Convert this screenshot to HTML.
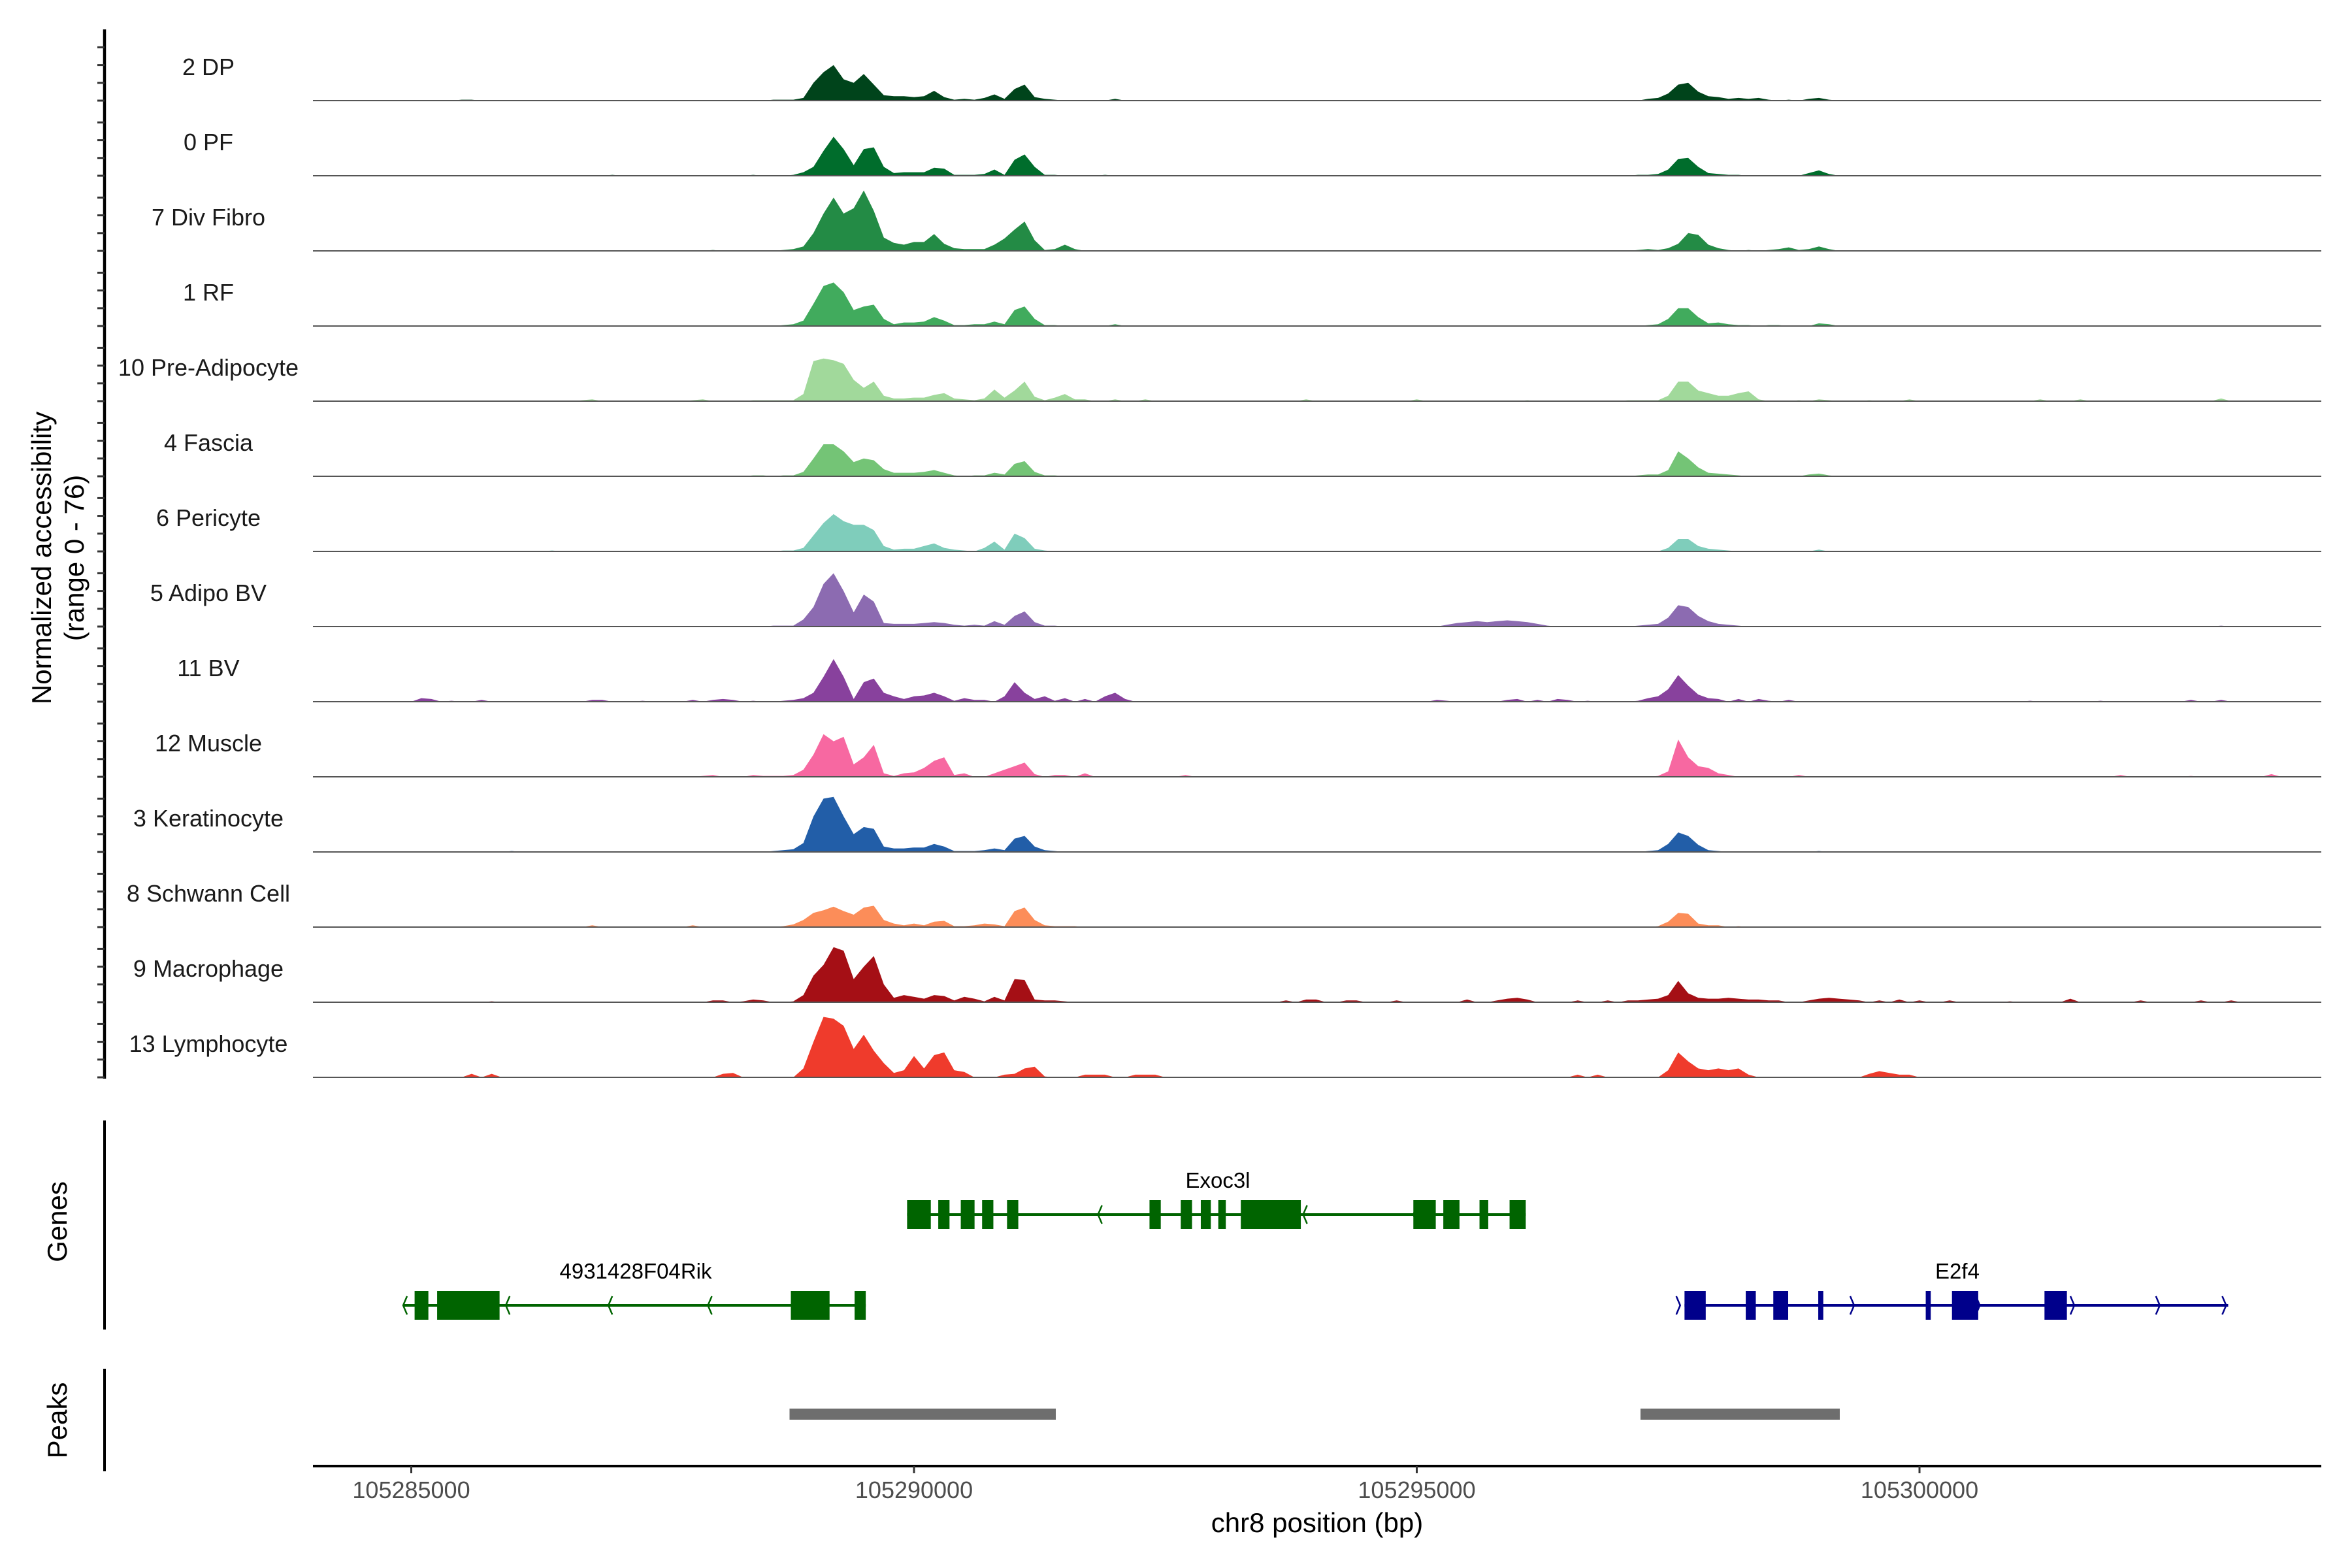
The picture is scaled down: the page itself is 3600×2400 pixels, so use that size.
<!DOCTYPE html>
<html><head><meta charset="utf-8"><style>
html,body{margin:0;padding:0;background:#fff;}
svg{display:block;font-family:"Liberation Sans",Arial,sans-serif;}
</style></head><body>
<svg id="chart" xmlns="http://www.w3.org/2000/svg" width="3600" height="2400" viewBox="0 0 3600 2400">
<rect width="3600" height="2400" fill="#fff"/>
<g id="tracks"></g>
<g id="yaxis"></g>
<text transform="translate(78,854) rotate(-90)" text-anchor="middle" font-size="42" fill="#000">Normalized accessibility</text>
<text transform="translate(128,854) rotate(-90)" text-anchor="middle" font-size="42" fill="#000">(range 0 - 76)</text>
<line x1="160" y1="1715" x2="160" y2="2035" stroke="#000" stroke-width="4"/>
<text transform="translate(102,1870) rotate(-90)" text-anchor="middle" font-size="42" fill="#000">Genes</text>
<line x1="160" y1="2095" x2="160" y2="2252" stroke="#000" stroke-width="4"/>
<text transform="translate(102,2174) rotate(-90)" text-anchor="middle" font-size="42" fill="#000">Peaks</text>
<g id="genes"></g>
<g id="peaks"></g>
<g id="xaxis"></g>
<text x="2016" y="2345" text-anchor="middle" font-size="42" fill="#000">chr8 position (bp)</text>
</svg>
<script>
// ---- data ----
const trackNames = ["2 DP","0 PF","7 Div Fibro","1 RF","10 Pre-Adipocyte","4 Fascia","6 Pericyte","5 Adipo BV","11 BV","12 Muscle","3 Keratinocyte","8 Schwann Cell","9 Macrophage","13 Lymphocyte"];
const trackColors = ["#00441B","#006D2C","#238B45","#41AB5D","#A1D99B","#74C476","#7FCDBB","#8C6BB1","#88419D","#F768A1","#225EA8","#FC8D59","#A50F15","#EF3B2C"];
const binStart = 105284000;
const binSize = 100;
const nBins = 201;
const yTicks = [0,20,40,60];
const xTicks = [105285000,105290000,105295000,105300000];
// coverage: [bin index, normalized accessibility]
const cov0 = [[15,1],[16,1],[46,1],[47,1],[48,1],[49,3],[50,20],[51,32],[52,40],[53,24],[54,20],[55,30],[56,18],[57,6],[58,5],[59,5],[60,4],[61,5],[62,11],[63,4],[64,1],[65,2],[66,1],[67,3],[68,7],[69,2],[70,13],[71,18],[72,4],[73,2],[74,1],[80,2],[133,2],[134,3],[135,8],[136,18],[137,20],[138,10],[139,5],[140,4],[141,2],[142,3],[143,2],[144,3],[145,1],[147,1],[149,2],[150,3],[151,1]];
const cov1 = [[30,1],[44,1],[48,1],[49,4],[50,10],[51,28],[52,44],[53,30],[54,12],[55,30],[56,32],[57,10],[58,3],[59,4],[60,4],[61,4],[62,9],[63,8],[64,1],[65,1],[66,1],[67,2],[68,7],[69,1],[70,18],[71,24],[72,10],[73,1],[74,1],[79,1],[132,1],[133,1],[134,2],[135,7],[136,19],[137,20],[138,10],[139,3],[140,2],[141,1],[142,1],[149,3],[150,6],[151,2]];
const cov2 = [[40,1],[47,1],[48,2],[49,5],[50,20],[51,42],[52,60],[53,42],[54,48],[55,68],[56,45],[57,15],[58,9],[59,7],[60,10],[61,10],[62,19],[63,8],[64,3],[65,2],[66,2],[67,2],[68,7],[69,14],[70,24],[71,33],[72,12],[73,1],[74,2],[75,7],[76,2],[132,1],[133,2],[134,1],[135,3],[136,8],[137,20],[138,18],[139,7],[140,3],[141,1],[143,1],[145,1],[146,2],[147,4],[148,1],[149,2],[150,5],[151,2]];
const cov3 = [[47,1],[48,2],[49,6],[50,25],[51,45],[52,49],[53,38],[54,18],[55,22],[56,24],[57,8],[58,2],[59,4],[60,4],[61,5],[62,10],[63,6],[64,1],[65,1],[66,2],[67,2],[68,5],[69,2],[70,18],[71,22],[72,8],[73,1],[74,1],[80,2],[133,1],[134,2],[135,8],[136,20],[137,20],[138,10],[139,3],[140,4],[141,2],[142,1],[143,1],[145,1],[146,1],[150,3],[151,2]];
const cov4 = [[27,1],[28,2],[38,1],[39,2],[44,1],[45,1],[46,1],[47,1],[48,1],[49,8],[50,45],[51,48],[52,46],[53,42],[54,24],[55,15],[56,22],[57,6],[58,3],[59,3],[60,4],[61,4],[62,7],[63,9],[64,3],[65,2],[66,1],[67,3],[68,13],[69,4],[70,12],[71,22],[72,5],[73,1],[74,4],[75,8],[76,2],[77,2],[80,2],[83,2],[99,2],[110,2],[121,1],[131,1],[132,1],[133,1],[134,1],[135,6],[136,22],[137,22],[138,12],[139,9],[140,6],[141,6],[142,9],[143,11],[144,2],[148,1],[150,2],[151,1],[155,1],[159,2],[172,2],[176,2],[190,3]];
const cov5 = [[44,1],[45,1],[47,1],[48,1],[49,5],[50,20],[51,36],[52,36],[53,28],[54,16],[55,20],[56,18],[57,8],[58,4],[59,4],[60,4],[61,5],[62,7],[63,4],[64,1],[66,1],[67,1],[68,4],[69,2],[70,14],[71,17],[72,5],[73,1],[74,1],[132,1],[133,2],[134,2],[135,7],[136,28],[137,20],[138,10],[139,4],[140,3],[141,2],[142,1],[149,2],[150,3],[151,1]];
const cov6 = [[24,1],[47,1],[48,1],[49,4],[50,18],[51,32],[52,42],[53,34],[54,30],[55,30],[56,24],[57,6],[58,2],[59,3],[60,3],[61,6],[62,9],[63,4],[64,2],[65,1],[67,4],[68,11],[69,2],[70,20],[71,15],[72,3],[73,1],[135,4],[136,14],[137,14],[138,6],[139,3],[140,2],[141,1],[150,2]];
const cov7 = [[46,1],[47,1],[48,1],[49,8],[50,22],[51,48],[52,60],[53,40],[54,16],[55,36],[56,28],[57,4],[58,3],[59,3],[60,3],[61,4],[62,5],[63,4],[64,2],[65,1],[66,2],[67,1],[68,6],[69,2],[70,12],[71,17],[72,5],[73,1],[74,1],[113,2],[114,4],[115,5],[116,6],[117,5],[118,6],[119,7],[120,6],[121,5],[122,3],[123,1],[132,1],[133,2],[134,3],[135,10],[136,24],[137,22],[138,12],[139,6],[140,3],[141,2],[142,1],[190,1]];
const cov8 = [[11,4],[12,3],[14,1],[17,2],[28,2],[29,2],[33,1],[38,2],[40,2],[41,3],[42,2],[44,1],[47,1],[48,2],[49,4],[50,10],[51,28],[52,48],[53,28],[54,3],[55,22],[56,26],[57,10],[58,6],[59,3],[60,6],[61,7],[62,10],[63,6],[64,1],[65,4],[66,2],[67,2],[69,6],[70,22],[71,10],[72,3],[73,6],[74,1],[75,4],[77,3],[79,6],[80,10],[81,3],[112,2],[113,1],[119,2],[120,3],[122,2],[124,3],[125,2],[127,1],[132,1],[133,4],[134,6],[135,14],[136,30],[137,18],[138,8],[139,4],[140,3],[142,3],[144,3],[145,1],[147,2],[171,1],[178,1],[187,2],[190,2]];
const cov9 = [[39,1],[40,2],[44,2],[45,1],[46,1],[47,1],[48,2],[49,8],[50,25],[51,48],[52,40],[53,45],[54,14],[55,22],[56,36],[57,4],[58,1],[59,4],[60,5],[61,10],[62,18],[63,22],[64,2],[65,4],[68,4],[69,8],[70,12],[71,16],[72,3],[74,2],[75,2],[77,4],[87,2],[134,1],[135,6],[136,42],[137,22],[138,12],[139,10],[140,4],[141,2],[148,2],[180,2],[187,1],[195,3]];
const cov10 = [[20,1],[46,1],[47,2],[48,3],[49,10],[50,40],[51,60],[52,62],[53,40],[54,20],[55,28],[56,26],[57,6],[58,4],[59,4],[60,5],[61,5],[62,9],[63,6],[64,1],[65,1],[66,1],[67,2],[68,4],[69,2],[70,15],[71,18],[72,6],[73,2],[74,1],[133,1],[134,2],[135,9],[136,22],[137,18],[138,8],[139,2],[140,1],[150,1]];
const cov11 = [[28,2],[38,2],[47,1],[48,3],[49,8],[50,16],[51,19],[52,23],[53,18],[54,14],[55,22],[56,24],[57,8],[58,4],[59,2],[60,4],[61,2],[62,6],[63,7],[64,1],[65,1],[66,2],[67,4],[68,3],[69,1],[70,18],[71,22],[72,8],[73,2],[74,1],[75,1],[76,1],[134,1],[135,6],[136,16],[137,15],[138,4],[139,2],[140,2],[142,1]];
const cov12 = [[18,1],[40,2],[41,2],[43,1],[44,3],[45,2],[48,1],[49,8],[50,30],[51,42],[52,62],[53,58],[54,26],[55,40],[56,52],[57,20],[58,5],[59,8],[60,6],[61,4],[62,8],[63,7],[64,2],[65,6],[66,4],[67,1],[68,6],[69,2],[70,26],[71,25],[72,3],[73,2],[74,2],[75,1],[97,2],[99,3],[100,3],[103,2],[104,2],[108,2],[115,3],[118,2],[119,4],[120,5],[121,3],[126,2],[129,2],[131,2],[132,2],[133,3],[134,4],[135,8],[136,24],[137,10],[138,5],[139,4],[140,4],[141,5],[142,4],[143,3],[144,3],[145,2],[146,2],[149,2],[150,4],[151,5],[152,4],[153,3],[154,2],[156,2],[158,3],[160,2],[163,2],[169,1],[175,4],[182,2],[188,2],[191,2]];
const cov13 = [[16,4],[18,4],[41,4],[42,5],[49,10],[50,40],[51,68],[52,66],[53,58],[54,32],[55,48],[56,30],[57,16],[58,5],[59,8],[60,24],[61,10],[62,25],[63,28],[64,8],[65,6],[69,3],[70,4],[71,10],[72,12],[73,1],[77,3],[78,3],[79,3],[82,3],[83,3],[84,3],[126,3],[128,3],[135,8],[136,28],[137,18],[138,10],[139,8],[140,10],[141,8],[142,10],[143,3],[155,4],[156,7],[157,5],[158,3],[159,3]];
const coverage = [cov0,cov1,cov2,cov3,cov4,cov5,cov6,cov7,cov8,cov9,cov10,cov11,cov12,cov13];
// genes: exon [start,end] bp
const exoc3lSpan = [105289931,105296084];
const exoc3lExons = [[105289931,105290167],[105290241,105290353],[105290465,105290602],[105290677,105290789],[105290925,105291037],[105292342,105292454],[105292653,105292765],[105292852,105292952],[105293026,105293101],[105293250,105293847],[105294966,105295189],[105295264,105295425],[105295624,105295711],[105295923,105296084]];
const exoc3lChevrons = [105291830,105293870,105294966];
const rikSpan = [105284919,105289520];
const rikExons = [[105285033,105285170],[105285257,105285878],[105288775,105289160],[105289409,105289520]];
const rikChevrons = [105284919,105285940,105286960,105287950];
const e2f4Span = [105297663,105303070];
const e2f4Exons = [[105297663,105297874],[105298272,105298372],[105298546,105298694],[105298993,105299043],[105300062,105300112],[105300323,105300584],[105301243,105301466]];
const e2f4Chevrons = [105297620,105299350,105300600,105301540,105302390,105303050];
const peakRegions = [[105288762,105291410],[105297225,105299207]];

// ---- scales ----
const NS="http://www.w3.org/2000/svg";
const X0=479, X1=3553, BP0=105284022, PXBP=0.1539;
function xs(bp){return X0+(bp-BP0)*PXBP;}
const TRACK_TOP=154, TRACK_STEP=115, YPX=1.36;
function base(k){return TRACK_TOP+TRACK_STEP*k;}
function ys(k,v){return base(k)-v*YPX;}
function mk(tag,attrs,parent){const e=document.createElementNS(NS,tag);for(const a in attrs)e.setAttribute(a,attrs[a]);parent.appendChild(e);return e;}

const gT=document.getElementById('tracks');
coverage.forEach((sparse,k)=>{
  const dense=new Array(nBins).fill(0);
  sparse.forEach(([b,v])=>{if(b>=0&&b<nBins)dense[b]=v;});
  let pts=[[xs(binStart),base(k)]];
  for(let i=0;i<nBins;i++){pts.push([Math.min(X1,Math.max(X0,xs(binStart+binSize*i))),ys(k,dense[i])]);}
  pts.push([Math.min(X1,xs(binStart+binSize*(nBins-1))),base(k)]);
  const p=mk('polygon',{points:pts.map(p=>p[0].toFixed(1)+','+p[1].toFixed(1)).join(' '),fill:trackColors[k]},gT);
  
  
  const l=mk('line',{x1:X0,x2:X1,y1:base(k),y2:base(k),stroke:'#555','stroke-width':2},gT);
  
  
  const t=mk('text',{x:319,y:base(k)-39,'text-anchor':'middle','font-size':36,fill:'#1a1a1a'},gT);
  t.textContent=trackNames[k];
  
  
});

const gY=document.getElementById('yaxis');
const yl=mk('line',{x1:160,x2:160,y1:45,y2:base(13)+2,stroke:'#000','stroke-width':4.5},gY);


coverage.forEach((s,k)=>{yTicks.forEach(v=>{
  const t=mk('line',{x1:149,x2:160,y1:ys(k,v),y2:ys(k,v),stroke:'#333','stroke-width':3},gY);
  
  
});});

const gG=document.getElementById('genes');
function chevron(bp,y,dir,color){
  const x=xs(bp);const w=6*dir;
  const c=mk('polyline',{points:`${x+w},${y-14} ${x},${y} ${x+w},${y+14}`,fill:'none',stroke:color,'stroke-width':2.5},gG);
  
  
}
function gene(name,span,exons,chev,y,color,dir,labelX){
  const g=mk('g',{},gG);
  
  
  const l=mk('line',{x1:xs(span[0]),x2:xs(span[1]),y1:y,y2:y,stroke:color,'stroke-width':4},g);
  
  
  exons.forEach(e=>{
    const r=mk('rect',{x:xs(e[0]),y:y-22,width:Math.max(3,xs(e[1])-xs(e[0])),height:44,fill:color},g);
    
    
  });
  chev.forEach(b=>chevron(b,y,dir,color));
  const t=mk('text',{x:labelX,y:y-41,'text-anchor':'middle','font-size':33,fill:'#000'},g);
  t.textContent=name;
  
  
}
gene('Exoc3l',exoc3lSpan,exoc3lExons,exoc3lChevrons,1859,'#006400',1,1864);
gene('4931428F04Rik',rikSpan,rikExons,rikChevrons,1998,'#006400',1,973);
gene('E2f4',e2f4Span,e2f4Exons,e2f4Chevrons,1998,'#00008B',-1,2996);

const gP=document.getElementById('peaks');
peakRegions.forEach(p=>{
  const r=mk('rect',{x:xs(p[0]),y:2156,width:xs(p[1])-xs(p[0]),height:17,fill:'#6E6E6E'},gP);
  
  
});

const gX=document.getElementById('xaxis');
const xl=mk('line',{x1:X0,x2:X1,y1:2244,y2:2244,stroke:'#000','stroke-width':4},gX);


xTicks.forEach(v=>{
  const t=mk('line',{x1:xs(v),x2:xs(v),y1:2244,y2:2255,stroke:'#333','stroke-width':3},gX);
  
  
  const l=mk('text',{x:xs(v),y:2293,'text-anchor':'middle','font-size':36,fill:'#4D4D4D'},gX);
  l.textContent=String(v);
  
  
});
</script>
</body></html>
